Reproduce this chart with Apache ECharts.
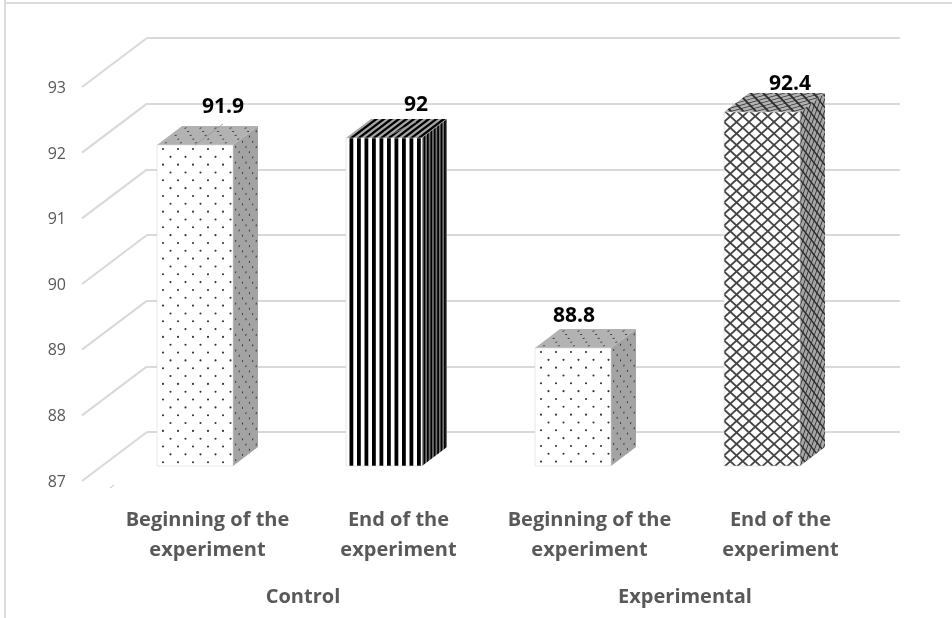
<!DOCTYPE html>
<html>
<head>
<meta charset="utf-8">
<style>html,body{margin:0;padding:0;background:#fff}#c{width:952px;height:618px;filter:blur(0.45px)}</style>
<script src="https://cdn.jsdelivr.net/npm/echarts@6/dist/echarts.min.js"></script>
</head>
<body>
<div id="c"></div>
<script>
const categories = ['Beginning of the\nexperiment', 'End of the\nexperiment', 'Beginning of the\nexperiment', 'End of the\nexperiment'];
const groups = ['Control', 'Experimental'];
const values = [91.9, 92, 88.8, 92.4];
const yTicks = [87, 88, 89, 90, 91, 92, 93];

// drawing style, separate from the data
const FONT = '"Open Sans", sans-serif';
const patterns = ['dots', 'stripes', 'dots', 'hatch'];
const sideShade = { dots: 0.36, stripes: 0.55, hatch: 0.35 };
const topShade = { dots: 0.3, stripes: 0.35, hatch: 0.3 };
const labelShift = [[28, -38], [32, -33], [1, -32], [28, -28]];
const leaderOn = [true, true, false, false];
const WALL = { dx: 65, dy: 49 };
const BAR_OFF = { dx: 18, dy: -16 };
const DEPTH = { dx: 25, dy: 19 };

function paint(ctx, kind, W, H) {
  ctx.fillStyle = '#fff';
  ctx.fillRect(-W, -H, 3 * W, 3 * H);
  if (kind === 'dots') {
    ctx.fillStyle = '#333';
    for (let r = 0; 4 + r * 7.83 < H; r++) {
      for (let c = -1; c * 15 < W; c++) {
        ctx.beginPath();
        ctx.arc(6 + (r % 2) * 7.5 + c * 15, 4 + r * 7.83, 1.05, 0, Math.PI * 2);
        ctx.fill();
      }
    }
  } else if (kind === 'stripes') {
    ctx.fillStyle = '#000';
    for (let x = 3.5; x < W; x += 7.5) ctx.fillRect(x, -1, 3.8, H + 2);
  } else {
    ctx.strokeStyle = '#444';
    ctx.lineWidth = 1.8;
    const px = 12.5, py = 11.5, n = Math.ceil((W / px + H / py)) + 2;
    for (let k = -n; k <= n; k++) {
      const y0 = 10 + k * py;
      ctx.beginPath(); ctx.moveTo(0, y0); ctx.lineTo(W, y0 + W / px * py); ctx.stroke();
      ctx.beginPath(); ctx.moveTo(0, y0); ctx.lineTo(W, y0 - W / px * py); ctx.stroke();
    }
  }
}
function faceCanvas(W, H, kind, matrix, u, v, shade) {
  const cv = document.createElement('canvas');
  cv.width = Math.ceil(W); cv.height = Math.ceil(H);
  const ctx = cv.getContext('2d');
  ctx.fillStyle = '#fff'; ctx.fillRect(0, 0, cv.width, cv.height);
  ctx.save();
  ctx.setTransform.apply(ctx, matrix);
  paint(ctx, kind, u, v);
  ctx.restore();
  if (shade) { ctx.fillStyle = 'rgba(0,0,0,' + shade + ')'; ctx.fillRect(0, 0, cv.width, cv.height); }
  return cv;
}

function renderWall(params, api) {
  const p = api.coord([0, api.value(0)]);
  return {
    type: 'line',
    shape: { x1: p[0], y1: p[1], x2: p[0] - WALL.dx, y2: p[1] + WALL.dy },
    style: { stroke: '#d9d9d9', lineWidth: 2 }
  };
}
function renderBar(params, api) {
  const i = api.value(0), val = api.value(1);
  const band = api.size([1, 0])[0];
  const w = Math.round(band * 0.4);
  const top = api.coord([i, val]), base = api.coord([i, yTicks[0]]);
  const x0 = Math.round(top[0] + BAR_OFF.dx - w / 2);
  const y0 = Math.round(top[1] + BAR_OFF.dy);
  const y1 = Math.round(base[1] + BAR_OFF.dy);
  const h = y1 - y0, dx = DEPTH.dx, dy = DEPTH.dy, kind = patterns[i];
  const depthU = 55, depthV = 40;
  const front = faceCanvas(w, h, kind, [1, 0, 0, 1, 0, 0], w, h, 0);
  const side = faceCanvas(dx, h + dy, kind, [dx / depthU, -dy / depthU, 0, 1, 0, dy], depthU, h + dy, sideShade[kind]);
  const topF = faceCanvas(w + dx, dy, kind, [1, 0, -dx / depthV, dy / depthV, dx, 0], w + dx, depthV, topShade[kind]);
  const cx = x0 + w / 2;
  const lx = cx + labelShift[i][0], ly = y0 + labelShift[i][1];
  const children = [
    { type: 'polygon', shape: { points: [[x0, y0], [x0 + dx, y0 - dy], [x0 + w + dx, y0 - dy], [x0 + w, y0]] },
      style: { fill: { image: topF, repeat: 'no-repeat', x: x0, y: y0 - dy } } },
    { type: 'polygon', shape: { points: [[x0 + w, y0], [x0 + w + dx, y0 - dy], [x0 + w + dx, y1 - dy], [x0 + w, y1]] },
      style: { fill: { image: side, repeat: 'no-repeat', x: x0 + w, y: y0 - dy } } },
    { type: 'polygon', shape: { points: [[x0, y0], [x0 + w, y0], [x0 + w, y1], [x0, y1]] },
      style: { fill: { image: front, repeat: 'no-repeat', x: x0, y: y0 }, stroke: 'rgba(217,217,217,0.6)', lineWidth: 1 } }
  ];
  if (leaderOn[i]) {
    children.push({ type: 'line', shape: { x1: cx, y1: y0, x2: lx, y2: ly + 17 },
      style: { stroke: 'rgba(150,150,150,0.8)', lineWidth: 1 } });
  }
  children.push({ type: 'text', x: lx, y: ly,
    style: { text: String(val), fill: '#000', font: '700 21px ' + FONT, align: 'center', verticalAlign: 'middle' } });
  return { type: 'group', children };
}

const chart = echarts.init(document.getElementById('c'), null, { renderer: 'canvas' });
chart.setOption({
  animation: false,
  backgroundColor: '#fff',
  grid: [
    { left: 147, top: 38, width: 753, height: 394 },
    { left: 82, top: 88.5, width: 756, height: 393.6 },
    { left: 112, top: 86, width: 764, height: 395 }
  ],
  xAxis: [
    { gridIndex: 0, type: 'value', min: 0, max: 1, show: false },
    { gridIndex: 1, type: 'category', data: categories, show: false },
    { gridIndex: 2, type: 'category', data: categories, position: 'bottom',
      axisLine: { show: false }, axisTick: { show: false }, splitLine: { show: false },
      axisLabel: { color: '#595959', fontFamily: FONT, fontWeight: 700, fontSize: 20, lineHeight: 30, margin: 24, interval: 0 } },
    { gridIndex: 2, type: 'category', data: groups, position: 'bottom', offset: 92,
      axisLine: { show: false }, axisTick: { show: false }, splitLine: { show: false },
      axisLabel: { color: '#595959', fontFamily: FONT, fontWeight: 700, fontSize: 20, margin: 14, interval: 0 } }
  ],
  yAxis: [
    { gridIndex: 0, type: 'value', min: 87, max: 93, interval: 1,
      axisLine: { show: false }, axisTick: { show: false }, axisLabel: { show: false },
      splitLine: { show: true, lineStyle: { color: '#d9d9d9', width: 2 } } },
    { gridIndex: 1, type: 'value', min: 87, max: 93, interval: 1,
      axisLine: { show: false }, axisTick: { show: false }, splitLine: { show: false },
      axisLabel: { color: '#595959', fontFamily: FONT, fontSize: 16, margin: 16 } },
    { gridIndex: 2, type: 'value', min: 87, max: 93, show: false }
  ],
  series: [
    { type: 'custom', xAxisIndex: 0, yAxisIndex: 0, clip: false, silent: true, z: 1,
      data: yTicks.map(v => [v]), encode: { y: 0 }, renderItem: renderWall },
    { type: 'custom', xAxisIndex: 1, yAxisIndex: 1, clip: false, silent: true, z: 5,
      data: values.map((v, i) => [i, v]), encode: { x: 0, y: 1 }, renderItem: renderBar }
  ],
  graphic: [
    { type: 'rect', silent: true, shape: { x: 4, y: 0, width: 2, height: 618 }, style: { fill: '#dcdcdc' } },
    { type: 'rect', silent: true, shape: { x: 4, y: 2, width: 948, height: 2 }, style: { fill: '#dcdcdc' } },
    { type: 'line', silent: true, shape: { x1: 110, y1: 488, x2: 114, y2: 485 }, style: { stroke: '#bdbdbd', lineWidth: 1 } }
  ]
});
</script>
</body>
</html>
